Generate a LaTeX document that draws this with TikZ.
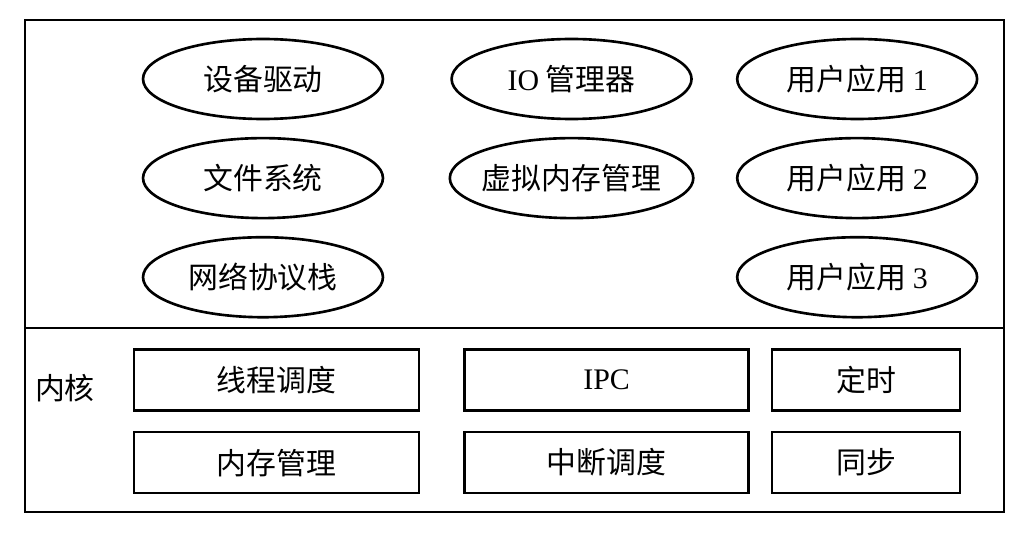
\documentclass[tikz,border=0pt]{standalone}
\usepackage{fontspec}
\setmainfont{Noto Sans CJK SC}
\newfontfamily\lat{Liberation Serif}
\usetikzlibrary{positioning,shapes.geometric}

\begin{document}
\begin{tikzpicture}[x=0.02cm,y=-0.02cm,line width=1.5pt,
  font=\fontsize{17pt}{19pt}\selectfont,
  node distance=0.33cm and 1.32cm,
  proc/.style={draw,ellipse,inner sep=0pt,inner xsep=-2pt,minimum width=4.8cm,minimum height=1.6cm},
  kbox/.style={draw,rectangle,inner sep=2pt,minimum height=1.22cm}]
 \useasboundingbox (0,0) rectangle (1022,544);
 \draw (25,20) rectangle (1004,512);
 \draw (25,328) -- (1004,328);
 % user space
 \node[proc] (drv) at (263,79) {设备驱动};
 \node[proc,below=of drv] (fs) {文件系统};
 \node[proc,below=of fs] (net) {网络协议栈};
 \node[proc,right=of drv] (io) {{\lat IO} 管理器};
 \node[proc,below=of io] (vm) {虚拟内存管理};
 \node[proc,right=0.86cm of io] (app1) {用户应用 {\lat 1}};
 \node[proc,below=of app1] (app2) {用户应用 {\lat 2}};
 \node[proc,below=of app2] (app3) {用户应用 {\lat 3}};
 % kernel
 \node (kern) at (65,388) {内核};
 \node[kbox,minimum width=5.7cm] (thr) at (276.5,380) {线程调度};
 \node[kbox,minimum width=5.7cm,below=0.38cm of thr] (mem) {内存管理};
 \node[kbox,minimum width=5.68cm,right=0.86cm of thr] (ipc) {{\lat IPC}};
 \node[kbox,minimum width=5.68cm,below=0.38cm of ipc] (irq) {中断调度};
 \node[kbox,minimum width=3.76cm,right=0.42cm of ipc] (tmr) {定时};
 \node[kbox,minimum width=3.76cm,below=0.38cm of tmr] (sync) {同步};
\end{tikzpicture}
\end{document}
